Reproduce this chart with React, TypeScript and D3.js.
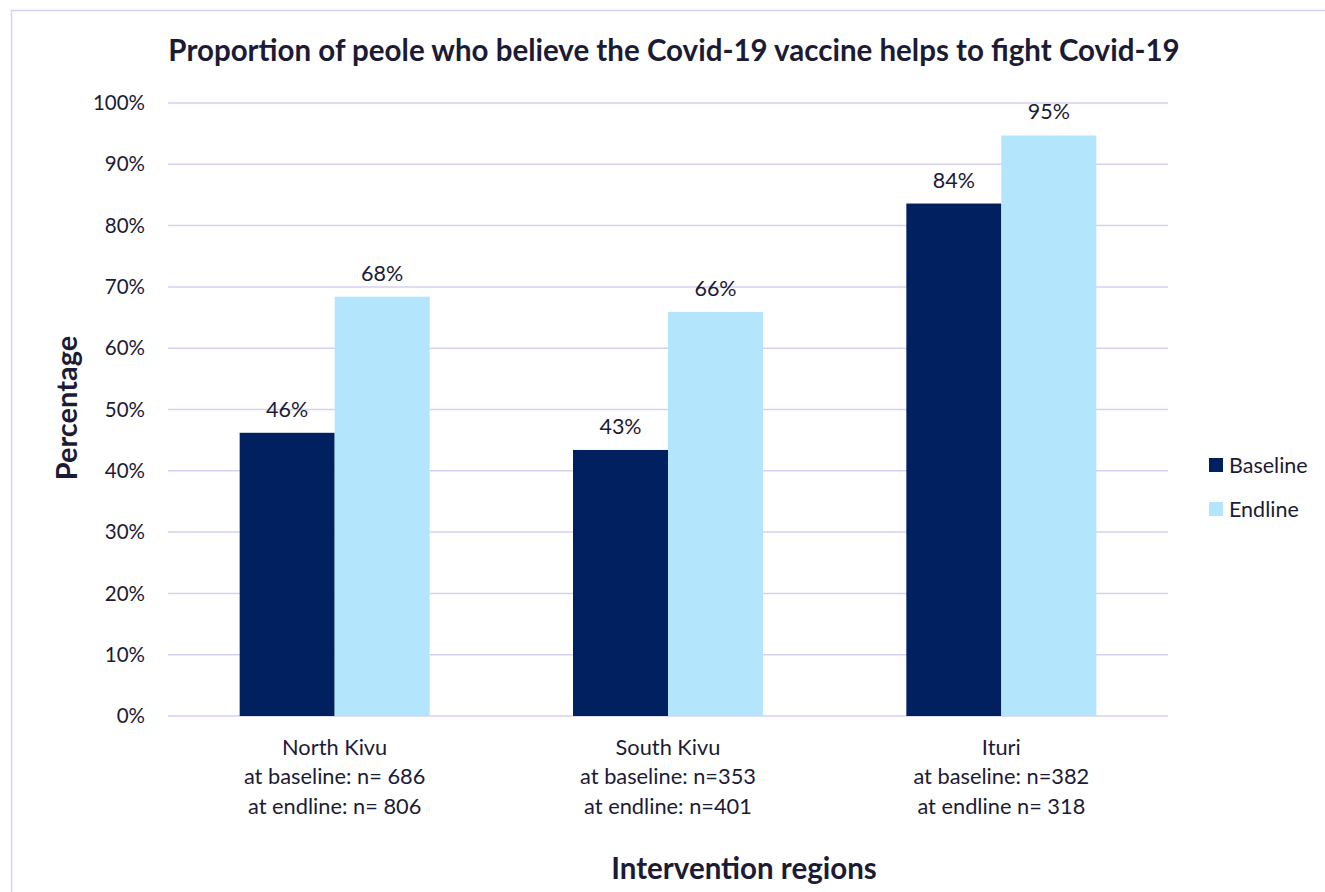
import React from "react";
import * as d3 from "d3";

const categories = ["North Kivu", "South Kivu", "Ituri"];
const categorySubLabels = [
  ["at baseline: n= 686", "at endline: n= 806"],
  ["at baseline: n=353", "at endline: n=401"],
  ["at baseline: n=382", "at endline n= 318"],
];
const seriesNames = ["Baseline", "Endline"];
const baselineValues = [46.2, 43.4, 83.6];
const endlineValues = [68.4, 65.9, 94.7];
const yTicks = [0, 10, 20, 30, 40, 50, 60, 70, 80, 90, 100];

const W = 1325;
const H = 892;
const FONT = "Lato, 'Open Sans', sans-serif";
const TEXT = "#1c1b35";
const GRID = "#d6d1ef";
const COLORS = ["#00205f", "#b3e5fc"];

export default function App() {
  const left = 168, right = 1168, top = 103, bottom = 716;
  const x0 = d3.scaleBand<string>().domain(categories).range([left, right]).paddingInner(0.43).paddingOuter(0.215);
  const x1 = d3.scaleBand<string>().domain(seriesNames).range([0, x0.bandwidth()]).padding(0);
  const y = d3.scaleLinear().domain([0, 100]).range([bottom, top]);
  const seriesValues = [baselineValues, endlineValues];

  return (
    <svg width={W} height={H} style={{ position: "absolute", left: 0, top: 0, background: "#fff" }} fontFamily={FONT}>
      <rect x={11.5} y={10.5} width={W + 20} height={H + 20} fill="#fff" stroke={GRID} strokeWidth={1.5} />
      <text x={674} y={61} textAnchor="middle" fontSize={29.5} fontWeight={700} fill={TEXT}>
        Proportion of peole who believe the Covid-19 vaccine helps to fight Covid-19
      </text>
      {yTicks.map((t) => (
        <g key={t}>
          <line x1={left} x2={right} y1={y(t)} y2={y(t)} stroke={GRID} strokeWidth={1.5} />
          <text x={145} y={y(t)} dy="0.35em" textAnchor="end" fontSize={20.5} fill={TEXT}>
            {t}%
          </text>
        </g>
      ))}
      {categories.map((c, ci) => (
        <g key={c}>
          {seriesNames.map((s, si) => {
            const v = seriesValues[si][ci];
            const bx = (x0(c) as number) + (x1(s) as number);
            return (
              <g key={s}>
                <rect x={bx} y={y(v)} width={x1.bandwidth()} height={y(0) - y(v)} fill={COLORS[si]} />
                <text x={bx + x1.bandwidth() / 2} y={y(v) - 16} textAnchor="middle" fontSize={21.5} fill={TEXT}>
                  {Math.round(v)}%
                </text>
              </g>
            );
          })}
          {[c, ...categorySubLabels[ci]].map((line, li) => (
            <text
              key={li}
              x={(x0(c) as number) + x0.bandwidth() / 2}
              y={747 + li * 29.5}
              dy="0.35em"
              textAnchor="middle"
              fontSize={21.8}
              fill={TEXT}
            >
              {line}
            </text>
          ))}
        </g>
      ))}
      <text x={744} y={869} dy="0.35em" textAnchor="middle" fontSize={29.5} fontWeight={700} fill={TEXT}>
        Intervention regions
      </text>
      <text transform="translate(67,408) rotate(-90)" dy="0.35em" textAnchor="middle" fontSize={29} fontWeight={700} fill={TEXT}>
        Percentage
      </text>
      {seriesNames.map((s, si) => (
        <g key={s} transform={`translate(1209,${458 + si * 44})`}>
          <rect x={0} y={0} width={14} height={14} fill={COLORS[si]} />
          <text x={20} y={7} dy="0.35em" fontSize={21.5} fill={TEXT}>
            {s}
          </text>
        </g>
      ))}
    </svg>
  );
}
